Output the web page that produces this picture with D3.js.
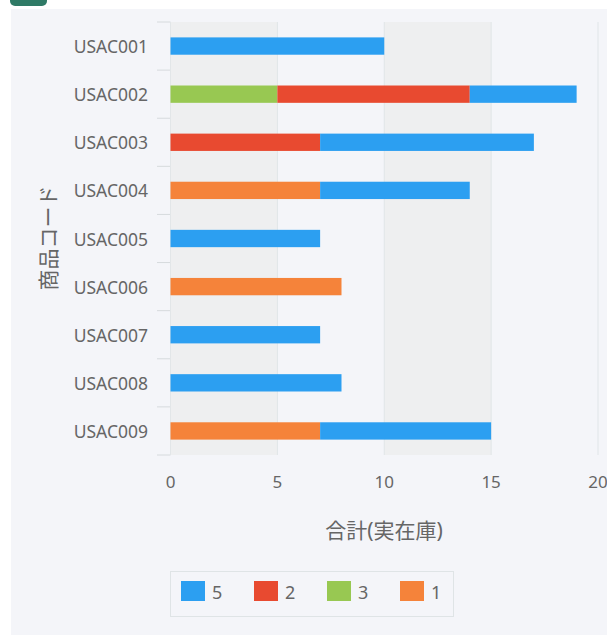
<!DOCTYPE html>
<html>
<head>
<meta charset="utf-8">
<script src="https://cdn.jsdelivr.net/npm/d3@7/dist/d3.min.js"></script>
<style>
  html, body { margin: 0; padding: 0; background: #ffffff; }
  svg { display: block; }
  text { font-family: "Noto Sans", "Noto Sans CJK JP", sans-serif; fill: #666; }
</style>
</head>
<body>
<svg id="chart" width="607" height="635"></svg>
<script>
// Product codes (y categories)
const categories = ["USAC001","USAC002","USAC003","USAC004","USAC005","USAC006","USAC007","USAC008","USAC009"];
// Stacked series, in stacking order left to right
const seriesNames = ["3", "1", "2", "5"];
const s3 = [0, 5, 0, 0, 0, 0, 0, 0, 0];
const s1 = [0, 0, 0, 7, 0, 8, 0, 0, 7];
const s2 = [0, 9, 7, 0, 0, 0, 0, 0, 0];
const s5 = [10, 5, 10, 7, 7, 0, 7, 8, 8];
const xTicks = [0, 5, 10, 15, 20];
const legendOrder = ["5", "2", "3", "1"];
const colors = { "5": "#2c9ff1", "2": "#e84a30", "3": "#98c852", "1": "#f5833a" };

const rows = categories.map((c, i) => ({ cat: c, "3": s3[i], "1": s1[i], "2": s2[i], "5": s5[i] }));

const svg = d3.select("#chart");

// Page header strip and panel
svg.append("rect").attr("x", 10).attr("y", -8).attr("width", 37).attr("height", 14)
  .attr("rx", 5).attr("fill", "#2f7a66");
svg.append("rect").attr("x", 11).attr("y", 9).attr("width", 596).attr("height", 626)
  .attr("fill", "#f4f5f9");

const m = { left: 170.5, right: 598, top: 22, bottom: 455 };

const x = d3.scaleLinear().domain([0, 20]).range([m.left, m.right]);
const y = d3.scaleBand().domain(categories).range([m.top, m.bottom]).paddingInner(0.64).paddingOuter(0.32);
const yBand = d3.scaleBand().domain(categories).range([m.top, m.bottom]);

// Alternating grid bands
const g = svg.append("g");
for (let i = 0; i < xTicks.length - 1; i++) {
  if (i % 2 === 0) {
    g.append("rect").attr("x", x(xTicks[i])).attr("y", m.top)
      .attr("width", x(xTicks[i + 1]) - x(xTicks[i])).attr("height", m.bottom - m.top)
      .attr("fill", "#eeeff0");
  }
}
// Vertical grid lines
g.selectAll("line.grid").data(xTicks.slice(1)).join("line")
  .attr("x1", d => x(d)).attr("x2", d => x(d))
  .attr("y1", m.top).attr("y2", m.bottom)
  .attr("stroke", "#e0e5e8").attr("stroke-width", 1);

// Category tick marks on the left
const ticksY = categories.map(c => yBand(c)).concat([m.bottom]);
g.selectAll("line.ytick").data(ticksY).join("line")
  .attr("x1", 157).attr("x2", m.left).attr("y1", d => d).attr("y2", d => d)
  .attr("stroke", "#d6dadd").attr("stroke-width", 1);
g.append("line").attr("x1", m.left).attr("x2", m.left).attr("y1", m.top).attr("y2", m.bottom)
  .attr("stroke", "#e2e6e8");

// Stacked bars
const stack = d3.stack().keys(seriesNames);
const stacked = stack(rows);
svg.append("g").selectAll("g").data(stacked).join("g")
  .attr("fill", d => colors[d.key])
  .selectAll("rect").data(d => d.filter(p => p[1] > p[0])).join("rect")
  .attr("x", d => x(d[0]))
  .attr("y", d => y(d.data.cat))
  .attr("width", d => x(d[1]) - x(d[0]))
  .attr("height", y.bandwidth());

// Category labels
svg.append("g").selectAll("text").data(categories).join("text")
  .attr("x", 148).attr("y", d => yBand(d) + yBand.bandwidth() / 2)
  .attr("text-anchor", "end").attr("dominant-baseline", "central")
  .attr("font-size", 17.5).text(d => d);

// X tick labels
svg.append("g").selectAll("text").data(xTicks).join("text")
  .attr("x", d => x(d)).attr("y", 481)
  .attr("text-anchor", "middle").attr("dominant-baseline", "central")
  .attr("font-size", 17).text(d => d);

// Axis titles
svg.append("text").attr("x", 384).attr("y", 530)
  .attr("text-anchor", "middle").attr("dominant-baseline", "central")
  .attr("font-size", 21).text("合計(実在庫)");
svg.append("text")
  .attr("transform", "translate(48,238) rotate(-90)")
  .attr("text-anchor", "middle").attr("dominant-baseline", "central")
  .attr("font-size", 21).text("商品コード");

// Legend
const lg = svg.append("g");
lg.append("rect").attr("x", 170.5).attr("y", 571.5).attr("width", 283).attr("height", 45)
  .attr("fill", "#f4f5f9").attr("stroke", "#dfe4e6");
const li = lg.selectAll("g").data(legendOrder).join("g")
  .attr("transform", (d, i) => `translate(${181 + i * 73},581)`);
li.append("rect").attr("width", 24).attr("height", 20).attr("fill", d => colors[d]);
li.append("text").attr("x", 31).attr("y", 11)
  .attr("dominant-baseline", "central").attr("font-size", 18).text(d => d);
</script>
</body>
</html>
